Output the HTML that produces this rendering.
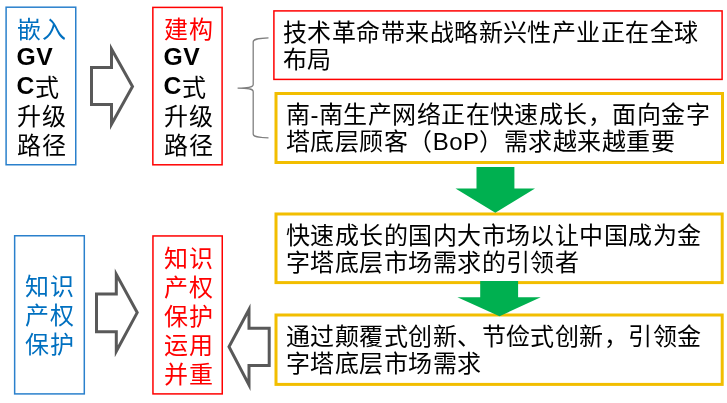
<!DOCTYPE html>
<html lang="zh-CN"><head><meta charset="utf-8">
<style>
html,body{margin:0;padding:0;background:#fff;}
body{width:727px;height:403px;position:relative;overflow:hidden;font-family:"Liberation Sans",sans-serif;color:#000;}
svg{position:absolute;left:0;top:0;}
.t{position:absolute;font-size:24px;white-space:nowrap;will-change:transform;}
.l{line-height:29px;font-weight:350;letter-spacing:0.5px;}
.r{line-height:27px;letter-spacing:0.45px;font-weight:350;}
.b{color:#0070C0;}
.red{color:#FF0000;}
.bd{font-weight:bold;font-size:24.7px;position:relative;left:-0.4px;}
.c{position:relative;top:1.5px;}
</style></head><body>
<svg width="727" height="403" viewBox="0 0 727 403">
  <g fill="none">
    <rect x="6.1" y="7.2" width="69.65" height="157.55" stroke="#2A80CC" stroke-width="1.5"/>
    <rect x="152.85" y="7.4" width="69.25" height="157.4" stroke="#FF0000" stroke-width="1.5"/>
    <rect x="273.9" y="10.9" width="448.2" height="68.5" stroke="#FF0000" stroke-width="1.5"/>
    <rect x="14.65" y="235.75" width="69.65" height="158.15" stroke="#2A80CC" stroke-width="1.5"/>
    <rect x="152.95" y="235.95" width="69.3" height="157.95" stroke="#FF0000" stroke-width="1.5"/>
    <rect x="276" y="93.5" width="446.5" height="69" stroke="#F2BE00" stroke-width="3"/>
    <rect x="276" y="214" width="446.2" height="68.6" stroke="#F2BE00" stroke-width="3"/>
    <rect x="276" y="315" width="446.2" height="69.4" stroke="#F2BE00" stroke-width="3"/>
    <path d="M268.5 37.8 C258 38.3 253.2 39 253.2 42 L253.2 84.5 C253.2 87 250 88 237.6 88.1 C250 88.2 253.2 89.2 253.2 91.7 L253.2 134 C253.2 137 258 137.6 268.5 137.9" stroke="#7F7F7F" stroke-width="1.3"/>
    <path d="M91.5 67.5 L111.5 67.5 L111.5 49 L132.5 86.5 L111.5 124.3 L111.5 104.5 L91.5 104.5 Z" stroke="#595959" stroke-width="3" stroke-linejoin="miter" stroke-miterlimit="10"/>
    <path d="M96.5 294 L116.3 294 L116.3 274.3 L137.2 312.6 L116.3 351.3 L116.3 331.8 L96.5 331.8 Z" stroke="#595959" stroke-width="3" stroke-linejoin="miter" stroke-miterlimit="10"/>
    <path d="M269.2 328.3 L249 328.3 L249 309.5 L229 346.8 L249 385 L249 365.6 L269.2 365.6 Z" stroke="#595959" stroke-width="3" stroke-linejoin="miter" stroke-miterlimit="10"/>
  </g>
  <path d="M476.5 167 L514.4 167 L514.4 188.5 L535 188.5 L495.3 212.7 L455.5 188.5 L476.5 188.5 Z" fill="#00B050"/>
  <path d="M480.2 281 L518.1 281 L518.1 297.3 L540.7 297.3 L499.5 316.2 L457.4 297.3 L480.2 297.3 Z" fill="#00B050"/>
</svg>
<div class="t l" style="left:16.5px;top:13px;"><span class="b c">嵌入</span><br><span class="bd">GV</span><br><span class="bd">C</span><span class="c">式</span><br><span class="c">升级</span><br><span class="c">路径</span></div>
<div class="t l" style="left:163.5px;top:13px;"><span class="red c">建构</span><br><span class="bd">GV</span><br><span class="bd">C</span><span class="c">式</span><br><span class="c">升级</span><br><span class="c">路径</span></div>
<div class="t l b" style="left:25.3px;top:272px;">知识<br>产权<br>保护</div>
<div class="t l red" style="left:163.5px;top:243.5px;">知识<br>产权<br>保护<br>运用<br>并重</div>
<div class="t r" style="left:283px;top:19px;">技术革命带来战略新兴性产业正在全球<br>布局</div>
<div class="t r" style="left:286px;top:101.4px;">南-南生产网络正在快速成长，面向金字<br>塔底层顾客（BoP）需求越来越重要</div>
<div class="t r" style="left:286px;top:222px;">快速成长的国内大市场以让中国成为金<br>字塔底层市场需求的引领者</div>
<div class="t r" style="left:286px;top:323.4px;">通过颠覆式创新、节俭式创新，引领金<br>字塔底层市场需求</div>
</body></html>
